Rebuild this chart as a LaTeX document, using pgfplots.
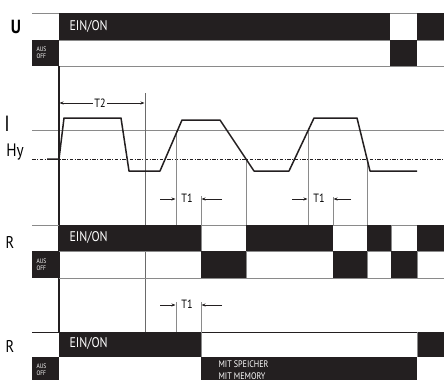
\documentclass[border=0pt]{standalone}
\usepackage{pgfplots}
\pgfplotsset{compat=1.18}
\usepackage{fontspec}
\setmainfont[FakeStretch=0.85]{PT Sans}
\usetikzlibrary{arrows.meta}
\definecolor{dk}{HTML}{231F20}
\definecolor{gl}{HTML}{8A8A8A}
\definecolor{gd}{HTML}{6A6A6A}
\newcommand\rect[4]{\addplot[draw=none,fill=dk] coordinates {(#1,#2)(#3,#2)(#3,#4)(#1,#4)} --cycle;}
\newcommand\gline[4]{\addplot[gl,line width=0.9pt] coordinates {(#1,#2)(#3,#4)};}
\begin{document}
\begin{tikzpicture}
\begin{axis}[scale only axis, width=444pt, height=380pt, xmin=0, xmax=444, ymin=0, ymax=380,
  y dir=reverse, hide axis, clip=false, enlargelimits=false]
% ---------- U row
\gline{32}{13}{59}{13}
\gline{390}{13}{417}{13}
\rect{59}{13}{390}{40}
\rect{417}{13}{444}{40}
\rect{32}{40}{59}{66}
\rect{390}{40}{417}{66}
\gline{59}{66}{444}{66}
\gline{59}{40}{390}{40}
\gline{417}{40}{444}{40}
\node[anchor=center,font=\fontsize{19}{19}\selectfont\bfseries] at (axis cs:16,27) {U};
\node[anchor=west,text=white,font=\fontsize{14}{14}\selectfont] at (axis cs:66,26) {EIN/ON};
\node[anchor=west,text=white,font=\fontsize{6.5}{7}\selectfont,align=left] at (axis cs:33,53) {AUS\\OFF};
% ---------- I section
\gline{32}{130}{444}{130}
\addplot[dk,line width=0.8pt,dash pattern=on 3.5pt off 1.5pt on 1pt off 1.5pt] coordinates {(32,159)(444,159)};
\addplot[gd,line width=0.9pt] coordinates {(145,93)(145,332)};
% verticals
\gline{176}{130}{176}{225}
\gline{201}{196}{201}{225}
\gline{246}{159}{246}{225}
\gline{308}{130}{308}{225}
\gline{333}{197}{333}{225}
\gline{367}{159}{367}{225}
\gline{176}{302}{176}{332}
\gline{201}{302}{201}{332}
% signal
\addplot[dk,line width=1.5pt,line join=round] coordinates {(47,159)(59,159)(64,118)(121,118)(129,171)(160,171)(182,120)(220,120)(254,171)(289,171)(314,118)(357,118)(370,171)(417,171)};
\addplot[dk,line width=1.1pt] coordinates {(59,66)(59,332)};
\node[font=\fontsize{22}{22}\selectfont] at (axis cs:7,124) {I};
\node[font=\fontsize{18}{18}\selectfont] at (axis cs:15,152) {Hy};
% T2 arrow
\addplot[dk,line width=0.6pt,{Stealth[length=4pt,width=3pt]}-{Stealth[length=4pt,width=3pt]}] coordinates {(59.5,103)(144.5,103)};
\node[fill=white,inner sep=1.5pt,font=\fontsize{12}{12}\selectfont] at (axis cs:100,103) {T2};
% T1 arrows
\addplot[dk,line width=0.6pt,-{Stealth[length=4pt,width=3pt]}] coordinates {(160,199)(175.5,199)};
\addplot[dk,line width=0.6pt,-{Stealth[length=4pt,width=3pt]}] coordinates {(222,199)(201.5,199)};
\node[font=\fontsize{12}{12}\selectfont] at (axis cs:187,198) {T1};
\addplot[dk,line width=0.6pt,-{Stealth[length=4pt,width=3pt]}] coordinates {(292,199)(307.5,199)};
\addplot[dk,line width=0.6pt,-{Stealth[length=4pt,width=3pt]}] coordinates {(351,199)(333.5,199)};
\node[font=\fontsize{12}{12}\selectfont] at (axis cs:319,198) {T1};
\addplot[dk,line width=0.6pt,-{Stealth[length=4pt,width=3pt]}] coordinates {(160,305)(175.5,305)};
\addplot[dk,line width=0.6pt,-{Stealth[length=4pt,width=3pt]}] coordinates {(222,305)(201.5,305)};
\node[font=\fontsize{12}{12}\selectfont] at (axis cs:187,304) {T1};
% ---------- R row 1
\gline{32}{225}{444}{225}
\gline{59}{251}{444}{251}
\gline{59}{278}{444}{278}
\rect{59}{225}{201}{251}
\rect{246}{225}{333}{251}
\rect{367}{225}{391}{251}
\rect{417}{225}{444}{251}
\rect{32}{251}{59}{278}
\rect{201}{251}{246}{278}
\rect{333}{251}{367}{278}
\rect{391}{251}{417}{278}
\gline{201}{225}{201}{251}
\gline{391}{225}{391}{251}
\gline{246}{251}{246}{278}
\gline{367}{251}{367}{278}
\gline{417}{251}{417}{278}
\node[font=\fontsize{17}{17}\selectfont] at (axis cs:10,242) {R};
\node[anchor=west,text=white,font=\fontsize{14}{14}\selectfont] at (axis cs:66,237) {EIN/ON};
\node[anchor=west,text=white,font=\fontsize{6.5}{7}\selectfont,align=left] at (axis cs:33,265) {AUS\\OFF};
% ---------- R row 2
\addplot[dk,line width=0.9pt] coordinates {(32,332)(444,332)};
\rect{59}{332}{201}{357}
\rect{417}{332}{444}{357}
\rect{32}{357}{59}{380}
\rect{201}{357}{417}{380}
\gline{201}{332}{201}{357}
\gline{417}{332}{417}{357}
\node[font=\fontsize{17}{17}\selectfont] at (axis cs:10,346) {R};
\node[anchor=west,text=white,font=\fontsize{14}{14}\selectfont] at (axis cs:66,343) {EIN/ON};
\node[anchor=west,text=white,font=\fontsize{6.5}{7}\selectfont,align=left] at (axis cs:33,370) {AUS\\OFF};
\node[anchor=west,text=white,font=\fontsize{9.5}{9.5}\selectfont,align=left] at (axis cs:215,364) {MIT SPEICHER};
\node[anchor=west,text=white,font=\fontsize{9.5}{9.5}\selectfont,align=left] at (axis cs:215,376.5) {MIT MEMORY};
\end{axis}
\pgfresetboundingbox
\path (current axis.south west) rectangle (current axis.north east);
\end{tikzpicture}
\end{document}
